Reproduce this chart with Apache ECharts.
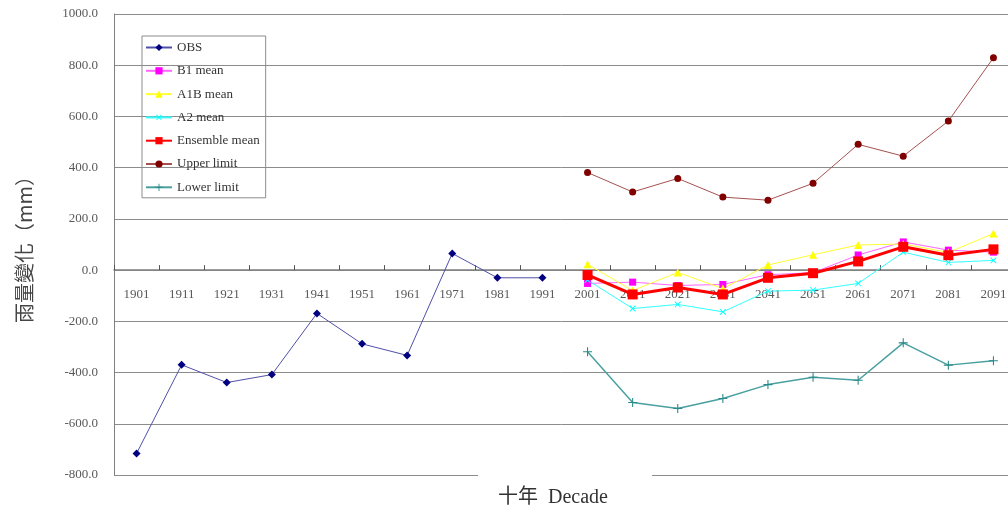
<!DOCTYPE html>
<html>
<head>
<meta charset="utf-8">
<script src="https://cdn.jsdelivr.net/npm/echarts@6/dist/echarts.min.js"></script>
<style>
html,body{margin:0;padding:0;background:#fff;}
#chart{width:1008px;height:512px;}
</style>
</head>
<body>
<div id="chart"></div>
<script>
// ---- data ----
const decades = ['1901','1911','1921','1931','1941','1951','1961','1971','1981','1991',
                 '2001','2011','2021','2031','2041','2051','2061','2071','2081','2091'];
const yTicks = { min: -800, max: 1000, step: 200 };
const obsValues      = [-716, -370, -439, -408, -169, -288, -333, 65, -30, -30];
const b1Mean         = [-52, -47, -60, -56, -18, -10, 59, 110, 78, 70];
const a1bMean        = [23, -80, -9, -72, 20, 60, 98, 102, 69, 143];
const a2Mean         = [-39, -150, -134, -163, -82, -78, -52, 70, 30, 38];
const ensembleMean   = [-19, -95, -68, -95, -30, -12, 34, 91, 58, 81];
const upperLimit     = [381, 305, 358, 285, 273, 339, 491, 445, 582, 829];
const lowerLimit     = [-319, -517, -540, -501, -447, -418, -430, -284, -371, -354];
const seriesNames = ['OBS','B1 mean','A1B mean','A2 mean','Ensemble mean','Upper limit','Lower limit'];

// ---- build ----
const pad = n => new Array(n).fill(null);
const obsFull = obsValues.concat(pad(decades.length - obsValues.length));
const proj = arr => pad(decades.length - arr.length).concat(arr);
const plusPath = 'path://M4.4,0H5.6V4.4H10V5.6H5.6V10H4.4V5.6H0V4.4H4.4Z';
const serif = 'Liberation Serif';

const gridTop = 14, gridBottom = 37, chartH = 512;
const gridH = chartH - gridTop - gridBottom;
// distance from grid bottom up to the zero line (axis sits at value 0)
const zeroOffset = gridH * (0 - yTicks.min) / (yTicks.max - yTicks.min);

function line(name, data, color, lineColor, width, symbol, size, extra) {
  return Object.assign({
    name, type: 'line', data,
    symbol, symbolSize: size,
    itemStyle: { color },
    lineStyle: { color: lineColor, width },
    connectNulls: false
  }, extra || {});
}

const chart = echarts.init(document.getElementById('chart'), null, { renderer: 'canvas' });
chart.setOption({
  animation: false,
  backgroundColor: '#fff',
  grid: { left: 114, top: gridTop, width: 902, bottom: gridBottom, containLabel: false, outerBoundsMode: 'none' },
  legend: {
    orient: 'vertical', left: 142, top: 36,
    itemWidth: 26, itemHeight: 9, itemGap: 10.3,
    padding: [5, 6, 4, 3],
    borderColor: '#8c8c8c', borderWidth: 1,
    textStyle: { fontFamily: serif, fontSize: 13, color: '#333' },
    data: seriesNames
  },
  xAxis: {
    type: 'category', data: decades, boundaryGap: true, z: 1,
    position: 'bottom', offset: -zeroOffset,
    axisLine: { onZero: false, lineStyle: { color: '#808080', width: 1.5 } },
    axisTick: { show: true, inside: true, length: 5, lineStyle: { color: '#555' } },
    axisLabel: { margin: 18, fontFamily: serif, fontSize: 13, color: '#595959', interval: 0 },
    splitLine: { show: false },
    name: '十年  Decade', nameLocation: 'middle', nameGap: 194,
    nameTextStyle: {
      fontFamily: 'Liberation Serif, Noto Sans CJK TC', fontSize: 20, color: '#333',
      backgroundColor: '#fff', padding: [24, 44, 4, 20]
    }
  },
  yAxis: {
    type: 'value', min: yTicks.min, max: yTicks.max, interval: yTicks.step, z: 0,
    axisLine: { show: true, lineStyle: { color: '#808080', width: 1 } },
    axisTick: { show: false },
    axisLabel: { margin: 16, fontFamily: serif, fontSize: 13, color: '#595959',
                 formatter: v => v.toFixed(1) },
    splitLine: { show: true, lineStyle: { color: '#8c8c8c', width: 1 } },
    name: '雨量變化（mm）', nameLocation: 'middle', nameGap: 80,
    nameTextStyle: { fontFamily: 'Noto Sans CJK TC', fontSize: 20, color: '#444' }
  },
  series: [
    line('OBS', obsFull, '#000080', '#5050a8', 1, 'diamond', 8),
    line('B1 mean', proj(b1Mean), '#ff00ff', '#ff66ff', 1, 'rect', 7),
    line('A1B mean', proj(a1bMean), '#ffff00', '#ffff33', 1, 'triangle', 8),
    line('A2 mean', proj(a2Mean), '#00ffff', '#33ffff', 1, plusPath, 8, { symbolRotate: 45 }),
    line('Ensemble mean', proj(ensembleMean), '#ff0000', '#ff0000', 3, 'rect', 10),
    line('Upper limit', proj(upperLimit), '#800000', '#a85050', 1, 'circle', 7),
    line('Lower limit', proj(lowerLimit), '#2a8a8a', '#4aa0a0', 1.5, plusPath, 9)
  ]
});
</script>
</body>
</html>
